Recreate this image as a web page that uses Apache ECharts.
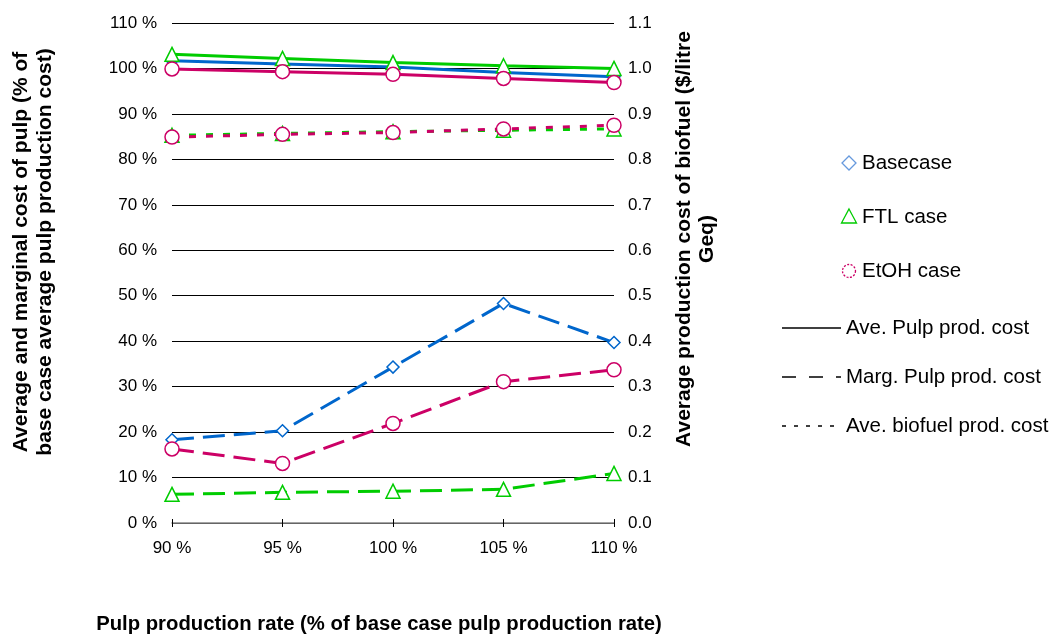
<!DOCTYPE html>
<html>
<head>
<meta charset="utf-8">
<style>
  html, body { margin: 0; padding: 0; background: #fff; }
  #chart { width: 1052px; height: 636px; }
</style>
<script src="https://cdn.jsdelivr.net/npm/echarts@6/dist/echarts.min.js"></script>
</head>
<body>
<div id="chart"></div>
<script>
// Pulp production rate categories
const categories = ['90 %', '95 %', '100 %', '105 %', '110 %'];

// Average pulp production cost (% of base case)
const aveBase = [101.7, 101.0, 100.3, 99.1, 98.2];
const aveFTL  = [103.1, 102.2, 101.3, 100.6, 100.0];
const aveEtOH = [99.9, 99.3, 98.7, 97.8, 96.9];

// Marginal pulp production cost (% of base case)
const margBase = [18.3, 20.3, 34.3, 48.3, 39.7];
const margFTL  = [6.3, 6.75, 7.0, 7.4, 10.9];
const margEtOH = [16.3, 13.1, 21.9, 31.1, 33.7];

// Average biofuel production cost ($/litre Geq)
const bioFTL  = [0.853, 0.857, 0.861, 0.864, 0.867];
const bioEtOH = [0.849, 0.855, 0.859, 0.867, 0.875];

const BLUE = '#0066CC', GREEN = '#00CC00', MAGENTA = '#CC0066';
const FONT = '"Liberation Sans", Arial, sans-serif';

const DIAMOND = 'path://M0,-1L1,0L0,1L-1,0Z';
const TRIANGLE = 'path://M0,-1L1,0.8L-1,0.8Z';

function line(name, data, color, symbol, size, type, yIdx) {
  return {
    name, type: 'line', data, yAxisIndex: yIdx, xAxisIndex: 0,
    symbol, symbolSize: size, showSymbol: true,
    lineStyle: { color, width: 3, type, cap: 'butt' },
    itemStyle: { color: '#fff', borderColor: color, borderWidth: 1.5 },
    emphasis: { disabled: true },
    animation: false, z: 3
  };
}

const LONG_DASH = [22, 9];
const SHORT_DASH = [7, 10];

const chart = echarts.init(document.getElementById('chart'), null, { renderer: 'canvas' });

const legendText = { font: '20.5px ' + FONT, fill: '#000', verticalAlign: 'middle' };

chart.setOption({
  backgroundColor: '#fff',
  animation: false,
  grid: { left: 172, right: 438, top: 23, bottom: 113, containLabel: false },
  xAxis: [
    {
      type: 'category', data: categories, boundaryGap: false, position: 'bottom',
      axisLine: { show: true, lineStyle: { color: '#868686', width: 1.5 } },
      axisTick: { show: true, length: 4, lineStyle: { color: '#000' } },
      axisLabel: { color: '#000', fontFamily: FONT, fontSize: 17, margin: 17 },
      splitLine: { show: false }
    },
    {
      type: 'category', data: categories, boundaryGap: false, position: 'bottom',
      axisLine: { show: false },
      axisTick: { show: true, inside: true, length: 4, lineStyle: { color: '#000' } },
      axisLabel: { show: false },
      splitLine: { show: false }
    }
  ],
  yAxis: [
    {
      type: 'value', min: 0, max: 110, interval: 10, position: 'left',
      axisLine: { show: false }, axisTick: { show: false },
      axisLabel: { color: '#000', fontFamily: FONT, fontSize: 17, margin: 15,
                   formatter: v => v + ' %' },
      splitLine: { show: true, lineStyle: { color: '#000', width: 1 } }
    },
    {
      type: 'value', min: 0, max: 1.1, interval: 0.1, position: 'right',
      axisLine: { show: false }, axisTick: { show: false },
      axisLabel: { color: '#000', fontFamily: FONT, fontSize: 17, margin: 14,
                   formatter: v => v.toFixed(1) },
      splitLine: { show: false }
    }
  ],
  series: [
    line('Basecase ave. pulp', aveBase, BLUE, DIAMOND, 12, 'solid', 0),
    line('FTL ave. pulp', aveFTL, GREEN, TRIANGLE, 14, 'solid', 0),
    line('EtOH ave. pulp', aveEtOH, MAGENTA, 'circle', 14, 'solid', 0),
    line('Basecase marg. pulp', margBase, BLUE, DIAMOND, 12, LONG_DASH, 0),
    line('FTL marg. pulp', margFTL, GREEN, TRIANGLE, 14, LONG_DASH, 0),
    line('EtOH marg. pulp', margEtOH, MAGENTA, 'circle', 14, LONG_DASH, 0),
    line('FTL biofuel', bioFTL, GREEN, TRIANGLE, 14, SHORT_DASH, 1),
    line('EtOH biofuel', bioEtOH, MAGENTA, 'circle', 14, SHORT_DASH, 1)
  ],
  graphic: [
    // axis titles
    { type: 'text', x: 33, y: 252, rotation: Math.PI / 2,
      style: { text: 'Average and marginal cost of pulp (% of\nbase case average pulp production cost)',
               font: 'bold 21px ' + FONT, fill: '#000', align: 'center', verticalAlign: 'middle',
               lineHeight: 24 } },
    { type: 'text', x: 696, y: 239, rotation: Math.PI / 2,
      style: { text: 'Average production cost of biofuel ($/litre\nGeq)',
               font: 'bold 21px ' + FONT, fill: '#000', align: 'center', verticalAlign: 'middle',
               lineHeight: 23 } },
    { type: 'text', x: 379, y: 624,
      style: { text: 'Pulp production rate (% of base case pulp production rate)',
               font: 'bold 20.3px ' + FONT, fill: '#000', align: 'center', verticalAlign: 'middle' } },

    // legend: cases (markers)
    { type: 'polygon', shape: { points: [[849, 156], [856, 163], [849, 170], [842, 163]] },
      style: { fill: '#fff', stroke: '#6699DD', lineWidth: 1.3 } },
    { type: 'text', x: 862, y: 163, style: Object.assign({ text: 'Basecase' }, legendText) },
    { type: 'polygon', shape: { points: [[849, 209], [856.5, 223], [841.5, 223]] },
      style: { fill: '#fff', stroke: GREEN, lineWidth: 1.3 } },
    { type: 'text', x: 862, y: 217, style: Object.assign({ text: 'FTL case' }, legendText) },
    { type: 'circle', shape: { cx: 849, cy: 271, r: 6.5 },
      style: { fill: '#fff', stroke: MAGENTA, lineWidth: 1.3, lineDash: [2, 1.5] } },
    { type: 'text', x: 862, y: 271, style: Object.assign({ text: 'EtOH case' }, legendText) },

    // legend: cost types (line styles)
    { type: 'line', shape: { x1: 782, y1: 328, x2: 841, y2: 328 }, style: { stroke: '#000', lineWidth: 1.7 } },
    { type: 'text', x: 846, y: 328, style: Object.assign({ text: 'Ave. Pulp prod. cost' }, legendText) },
    { type: 'line', shape: { x1: 782, y1: 377, x2: 841, y2: 377 }, style: { stroke: '#000', lineWidth: 1.7, lineDash: [14, 13] } },
    { type: 'text', x: 846, y: 377, style: Object.assign({ text: 'Marg. Pulp prod. cost' }, legendText) },
    { type: 'line', shape: { x1: 782, y1: 426, x2: 841, y2: 426 }, style: { stroke: '#000', lineWidth: 1.7, lineDash: [4, 8] } },
    { type: 'text', x: 846, y: 426, style: Object.assign({ text: 'Ave. biofuel prod. cost' }, legendText) }
  ]
});
</script>
</body>
</html>
